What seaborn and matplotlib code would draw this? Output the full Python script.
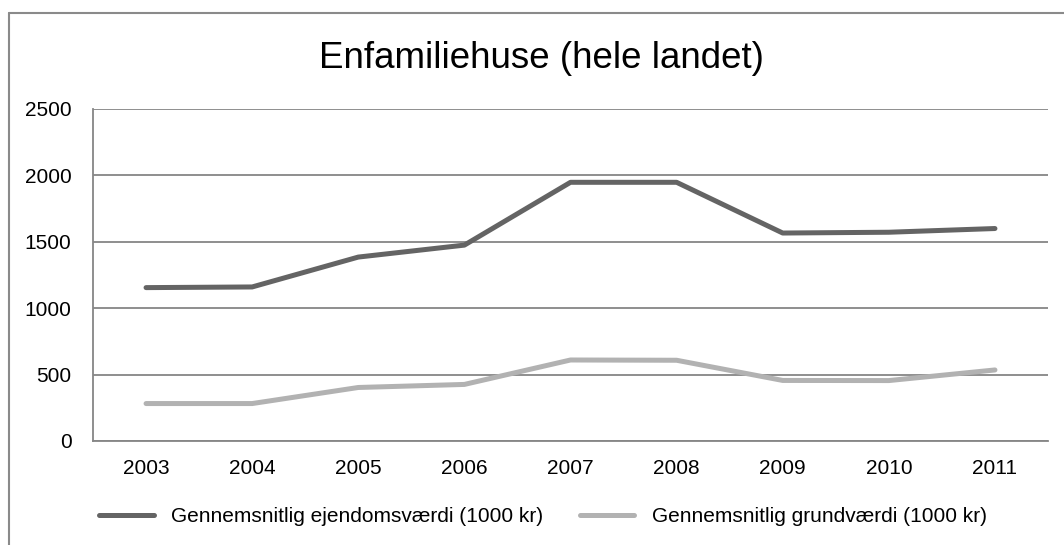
import numpy as np
import pandas as pd
import matplotlib
matplotlib.use("Agg")
import matplotlib.pyplot as plt
import seaborn as sns
from matplotlib.lines import Line2D

years = [2003, 2004, 2005, 2006, 2007, 2008, 2009, 2010, 2011]
ejendom = [1155, 1160, 1385, 1475, 1948, 1948, 1566, 1572, 1600]
grund = [282, 282, 403, 426, 610, 608, 456, 455, 535]
series_names = ["Gennemsnitlig ejendomsværdi (1000 kr)", "Gennemsnitlig grundværdi (1000 kr)"]
colors = ["#646464", "#b2b2b2"]

df = pd.DataFrame({
    "year": years * 2,
    "value": ejendom + grund,
    "serie": [series_names[0]] * len(years) + [series_names[1]] * len(years),
})

sns.set_style("white")
plt.rcParams["font.family"] = ["Liberation Sans", "DejaVu Sans"]
plt.rcParams["text.color"] = "black"
plt.rcParams["xtick.color"] = "black"
plt.rcParams["ytick.color"] = "black"

fig = plt.figure(figsize=(10.64, 5.45), dpi=100)
ax = fig.add_axes([93 / 1064, 1 - 441 / 545, (1048 - 93) / 1064, (441 - 109) / 545])

sns.lineplot(data=df, x="year", y="value", hue="serie", palette=colors,
             linewidth=3.6, ax=ax, legend=False, solid_capstyle="round")

ax.set_xlim(2002.5, 2011.5)
ax.set_ylim(0, 2500)
ax.set_yticks([0, 500, 1000, 1500, 2000, 2500])
ax.set_xticks(years)
ax.set_xticks(np.arange(2002.5, 2012, 1), minor=True)
ax.tick_params(axis="x", which="major", length=0, labelsize=15, pad=13)
ax.tick_params(axis="x", which="minor", length=6, color="#868686", width=1.2, direction="out")
ax.tick_params(axis="y", length=6, color="#868686", width=1.2, labelsize=15, pad=9.5, direction="out")
ax.set_xlabel("")
ax.set_ylabel("")
ax.grid(axis="y", color="#868686", linewidth=1.3)
ax.set_axisbelow(True)
for s in ["top", "right"]:
    ax.spines[s].set_visible(False)
for s in ["left", "bottom"]:
    ax.spines[s].set_color("#868686")
    ax.spines[s].set_linewidth(1.3)

fig.text(541 / 1064, 1 - 58 / 545, "Enfamiliehuse (hele landet)", fontsize=26.5,
         ha="center", va="center")

handles = [Line2D([], [], color=c, linewidth=3.6, solid_capstyle="round") for c in colors]
fig.legend(handles, series_names, loc="center", bbox_to_anchor=(543 / 1064, 1 - 517 / 545),
           ncol=2, frameon=False, fontsize=15, handlelength=2.6, columnspacing=1.75,
           handletextpad=0.85)

# chart border (left and top edges visible)
fig.add_artist(Line2D([9 / 1064, 9 / 1064], [0, 1 - 13 / 545], color="#8a8a8a", linewidth=1.5))
fig.add_artist(Line2D([9 / 1064, 1], [1 - 13 / 545, 1 - 13 / 545], color="#8a8a8a", linewidth=1.5))

fig.savefig("out.png", dpi=100)
